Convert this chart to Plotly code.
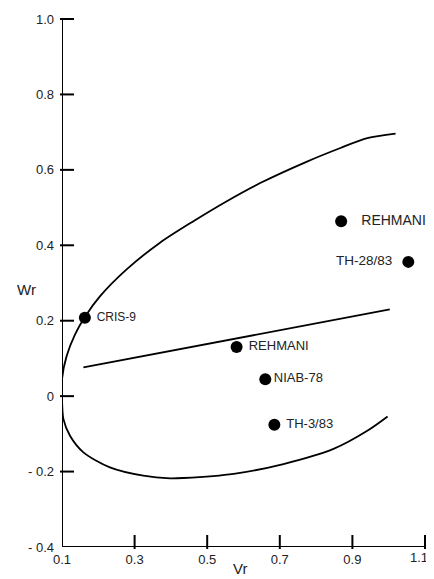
import plotly.graph_objects as go

# Genotype points (Vr, Wr)
genotypes = ["CRIS-9", "REHMANI", "NIAB-78", "TH-3/83", "REHMANI", "TH-28/83"]
vr_points = [0.163, 0.581, 0.660, 0.685, 0.869, 1.054]
wr_points = [0.208, 0.130, 0.045, -0.076, 0.464, 0.356]

# Limiting parabola, upper branch
upper_vr = [0.100, 0.100, 0.113, 0.136, 0.163, 0.205, 0.278, 0.370, 0.462, 0.554, 0.646, 0.775, 0.867, 0.941, 1.019]
upper_wr = [0.000, 0.045, 0.107, 0.164, 0.210, 0.265, 0.336, 0.407, 0.464, 0.517, 0.565, 0.622, 0.658, 0.684, 0.696]
# Limiting parabola, lower branch
lower_vr = [0.100, 0.104, 0.122, 0.159, 0.232, 0.324, 0.398, 0.435, 0.573, 0.710, 0.848, 0.941, 0.997]
lower_wr = [0.000, -0.061, -0.105, -0.149, -0.189, -0.211, -0.218, -0.217, -0.206, -0.180, -0.140, -0.092, -0.054]

# Regression line
reg_vr = [0.159, 1.003]
reg_wr = [0.076, 0.230]

y_ticks = [1.0, 0.8, 0.6, 0.4, 0.2, 0, -0.2, -0.4]
y_ticktext = ["1.0", "0.8", "0.6", "0.4", "0.2", "0", "- 0.2", "- 0.4"]
x_ticks = [0.1, 0.3, 0.5, 0.7, 0.9, 1.1]
x_ticktext = ["0.1", "0.3", "0.5", "0.7", "0.9", "1.1"]

x_range = [0.1, 1.1]
y_range = [-0.4, 1.0]

# label styling (not data)
label_pos = ["middle right", "middle right", "middle right", "middle right", "middle right", "middle left"]
label_prefix = [" ", " ", "", " ", "   ", ""]
label_suffix = ["", "", "", "", "", "  "]
label_size = [12, 13, 13, 13, 14, 13.5]

font_family = "Liberation Sans, Arial, sans-serif"

W, H = 426, 571
M = dict(l=54, r=9, t=11, b=32)
plot_w = W - M["l"] - M["r"]
plot_h = H - M["t"] - M["b"]
tick_px = 10
tick_dx = (x_range[1] - x_range[0]) * tick_px / plot_w
tick_dy = (y_range[1] - y_range[0]) * tick_px / plot_h

# inside tick marks drawn as line markers
ytick_mx = [x_range[0] + tick_dx / 2] * (len(y_ticks) - 1)
ytick_my = y_ticks[:-1]
xtick_mx = x_ticks[1:]
xtick_my = [y_range[0] + tick_dy / 2] * (len(x_ticks) - 1)

fig = go.Figure()
fig.add_trace(go.Scatter(x=ytick_mx, y=ytick_my, mode="markers",
                         marker=dict(symbol="line-ew-open", size=tick_px, color="black",
                                     line=dict(color="black", width=2)),
                         cliponaxis=False, hoverinfo="skip", showlegend=False))
fig.add_trace(go.Scatter(x=xtick_mx, y=xtick_my, mode="markers",
                         marker=dict(symbol="line-ns-open", size=tick_px, color="black",
                                     line=dict(color="black", width=2)),
                         cliponaxis=False, hoverinfo="skip", showlegend=False))
fig.add_trace(go.Scatter(x=upper_vr, y=upper_wr, mode="lines",
                         line=dict(color="black", width=1.8, shape="spline", smoothing=0.8),
                         hoverinfo="skip", showlegend=False))
fig.add_trace(go.Scatter(x=lower_vr, y=lower_wr, mode="lines",
                         line=dict(color="black", width=1.8, shape="spline", smoothing=0.8),
                         hoverinfo="skip", showlegend=False))
fig.add_trace(go.Scatter(x=reg_vr, y=reg_wr, mode="lines",
                         line=dict(color="black", width=1.8),
                         hoverinfo="skip", showlegend=False))
fig.add_trace(go.Scatter(x=vr_points, y=wr_points, mode="markers+text",
                         marker=dict(color="black", size=12),
                         text=[p + g + s for p, g, s in zip(label_prefix, genotypes, label_suffix)],
                         textposition=label_pos,
                         textfont=dict(family=font_family, size=label_size, color="#222"),
                         cliponaxis=False, showlegend=False))

shapes = [
    dict(type="line", xref="x", yref="y", x0=x_range[0], x1=x_range[0], y0=y_range[0], y1=y_range[1],
         line=dict(color="black", width=2), layer="above"),
    dict(type="line", xref="x", yref="y", x0=x_range[0], x1=x_range[1], y0=y_range[0], y1=y_range[0],
         line=dict(color="black", width=2), layer="above"),
]

# last x tick label drawn as annotation so it stays inside the page
annotations = [
    dict(text="Wr", x=-0.099, y=0.487, xref="paper", yref="paper",
         xanchor="center", yanchor="middle", showarrow=False, font=dict(size=15)),
    dict(text="Vr", x=0.491, y=-0.040, xref="paper", yref="paper",
         xanchor="center", yanchor="middle", showarrow=False, font=dict(size=15)),
    dict(text=x_ticktext[-1], x=x_ticks[-1], y=y_range[0], xref="x", yref="y",
         xanchor="right", yanchor="middle", xshift=5, yshift=-10,
         showarrow=False, font=dict(size=13)),
]

fig.update_layout(
    width=W, height=H,
    margin=dict(**M, autoexpand=False),
    paper_bgcolor="white", plot_bgcolor="white",
    font=dict(family=font_family, size=13, color="#222"),
    xaxis=dict(range=x_range, tickvals=x_ticks[:-1], ticktext=x_ticktext[:-1],
               ticks="", showline=False, showgrid=False, zeroline=False,
               ticklabelstandoff=3, ticklabeloverflow="allow"),
    yaxis=dict(range=y_range, tickvals=y_ticks, ticktext=y_ticktext,
               ticks="", showline=False, showgrid=False, zeroline=False,
               ticklabelstandoff=7, ticklabeloverflow="allow"),
    shapes=shapes,
    annotations=annotations,
)

fig.write_html("out.html")
